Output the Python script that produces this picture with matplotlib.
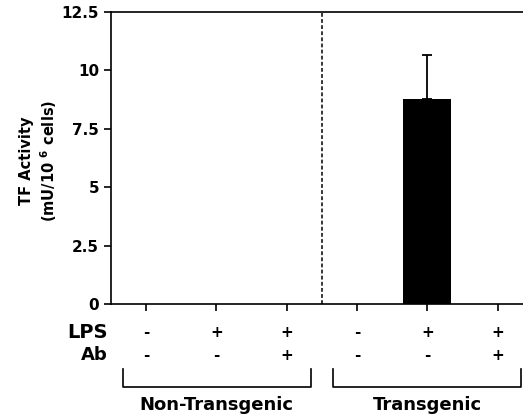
import matplotlib.pyplot as plt
import matplotlib.transforms as mtransforms

plt.rcParams['font.family'] = ['DejaVu Sans']
plt.rcParams['font.weight'] = 'bold'
plt.rcParams['mathtext.fontset'] = 'custom'
plt.rcParams['mathtext.bf'] = 'DejaVu Sans:bold'
plt.rcParams['mathtext.rm'] = 'DejaVu Sans:bold'

# data
lps = ['-', '+', '+', '-', '+', '+']
ab = ['-', '-', '+', '-', '-', '+']
tf_activity = [0, 0, 0, 0, 8.78, 0]
tf_error = [0, 0, 0, 0, 1.88, 0]
groups = ['Non-Transgenic', 'Transgenic']
yticks = [0, 2.5, 5, 7.5, 10, 12.5]
ytick_labels = ['0', '2.5', '5', '7.5', '10', '12.5']

fig = plt.figure(figsize=(5.23, 4.19), dpi=100)
ax = fig.add_axes([0.2122, 0.2745, 0.7878, 0.6969])

x = list(range(len(tf_activity)))
ax.bar(x, tf_activity, width=0.68, color='black')
ax.errorbar(x[4], tf_activity[4], yerr=[[0], [tf_error[4]]], fmt='none',
            ecolor='black', elinewidth=1.3, capsize=3.6, capthick=1.3)

# dashed divider between groups
ax.plot([2.5, 2.5], [0, 12.5], color='black', lw=1.1, ls=(0, (2.5, 1.5)))

ax.set_xlim(-0.5, 5.36)
ax.set_ylim(0, 12.5)
ax.set_yticks(yticks)
ax.set_yticklabels(ytick_labels, fontsize=11, fontweight='bold')
ax.set_xticks(x)
ax.set_xticklabels([])
ax.tick_params(direction='out', length=5, width=1.2)
ax.spines['right'].set_visible(False)
for s in ['left', 'top', 'bottom']:
    ax.spines[s].set_linewidth(1.2)

ax.set_ylabel('TF Activity\n(mU/10 $^{\\mathbf{6}}$ cells)', fontsize=10.5,
              fontweight='bold', linespacing=1.25)
ax.yaxis.set_label_coords(-0.127, 0.49)

# condition rows below the axis
trans = mtransforms.blended_transform_factory(ax.transData, ax.transAxes)
ax.text(-0.55, -0.096, 'LPS', transform=trans, ha='right', va='center', fontsize=14)
ax.text(-0.55, -0.175, 'Ab', transform=trans, ha='right', va='center', fontsize=13)
for i in x:
    ax.text(i, -0.096, lps[i], transform=trans, ha='center', va='center', fontsize=11)
    ax.text(i, -0.175, ab[i], transform=trans, ha='center', va='center', fontsize=11)

# group brackets
bracket_spans = [(-0.33, 2.34), (2.66, 5.33)]
for (x0, x1), name in zip(bracket_spans, groups):
    ax.plot([x0, x0, x1, x1], [-0.223, -0.284, -0.284, -0.223], color='black',
            lw=1.2, transform=trans, clip_on=False)
    ax.text((x0 + x1) / 2, -0.346, name, transform=trans, ha='center',
            va='center', fontsize=13)

fig.savefig('out.png', dpi=100)
